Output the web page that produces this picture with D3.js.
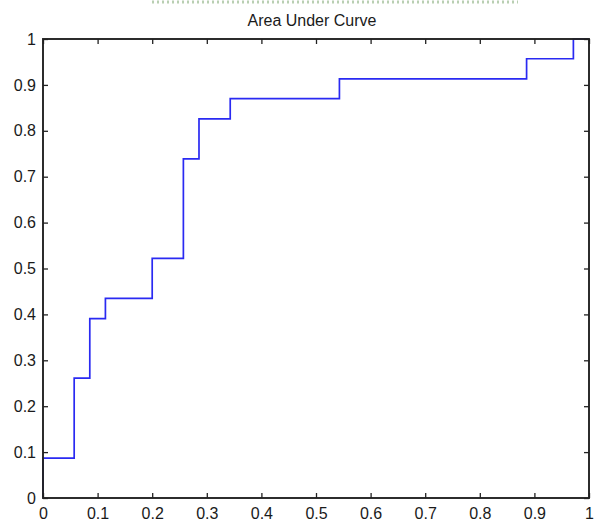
<!DOCTYPE html>
<html>
<head>
<meta charset="utf-8">
<script src="https://cdn.jsdelivr.net/npm/d3@7"></script>
<style>
  html, body { margin: 0; padding: 0; background: #fff; }
  svg { display: block; }
  text { font-family: "Liberation Sans", Arial, sans-serif; fill: #1a1a1a; }
</style>
</head>
<body>
<svg id="chart" width="607" height="524"></svg>
<script>
// Step curve vertices (x = false positive rate, y = true positive rate)
const fprValues = [0, 0, 0.0571, 0.0571, 0.0857, 0.0857, 0.1143, 0.1143, 0.2, 0.2, 0.2571, 0.2571, 0.2857, 0.2857, 0.3429, 0.3429, 0.5429, 0.5429, 0.8857, 0.8857, 0.9714, 0.9714, 1];
const tprValues = [0, 0.087, 0.087, 0.261, 0.261, 0.391, 0.391, 0.435, 0.435, 0.522, 0.522, 0.739, 0.739, 0.826, 0.826, 0.870, 0.870, 0.913, 0.913, 0.957, 0.957, 1, 1];
const xTicks = [0, 0.1, 0.2, 0.3, 0.4, 0.5, 0.6, 0.7, 0.8, 0.9, 1];
const yTicks = [0, 0.1, 0.2, 0.3, 0.4, 0.5, 0.6, 0.7, 0.8, 0.9, 1];
const titleText = "Area Under Curve";

(function () {
const svg = d3.select("#chart");
const mLeft = 43, mRight = 589, mTop = 39, mBottom = 498;

const x = d3.scaleLinear().domain([0, 1]).range([mLeft, mRight]);
const y = d3.scaleLinear().domain([0, 1]).range([mBottom, mTop]);

const fmt = d => d === 0 ? "0" : d === 1 ? "1" : d3.format(".1f")(d);

// cut-off text artefact at the very top
svg.append("line")
  .attr("x1", 152).attr("x2", 518).attr("y1", 2).attr("y2", 2)
  .attr("stroke", "#a8c4a0").attr("stroke-width", 3)
  .attr("stroke-dasharray", "2,3").attr("opacity", 0.8);

// curve
const pts = fprValues.map((v, i) => [v, tprValues[i]]);
svg.append("path")
  .datum(pts)
  .attr("fill", "none")
  .attr("stroke", "#2a2af2")
  .attr("stroke-width", 1.7)
  .attr("d", d3.line().x(d => x(d[0])).y(d => y(d[1])));

// axes with inward ticks
const tickLen = 5;
const axStyle = g => {
  g.select(".domain").remove();
  g.selectAll("line").attr("stroke", "#222").attr("stroke-width", 1.3);
  g.selectAll("text").style("font-size", "16px").attr("fill", "#1a1a1a");
};

svg.append("g").attr("transform", `translate(0,${mBottom})`)
  .call(d3.axisBottom(x).tickValues(xTicks).tickFormat(fmt).tickSizeInner(-tickLen).tickSizeOuter(0).tickPadding(10))
  .call(axStyle);
svg.append("g").attr("transform", `translate(0,${mTop})`)
  .call(d3.axisTop(x).tickValues(xTicks).tickFormat("").tickSizeInner(-tickLen).tickSizeOuter(0))
  .call(axStyle);
svg.append("g").attr("transform", `translate(${mLeft},0)`)
  .call(d3.axisLeft(y).tickValues(yTicks).tickFormat(fmt).tickSizeInner(-tickLen).tickSizeOuter(0).tickPadding(7))
  .call(axStyle);
svg.append("g").attr("transform", `translate(${mRight},0)`)
  .call(d3.axisRight(y).tickValues(yTicks).tickFormat("").tickSizeInner(-tickLen).tickSizeOuter(0))
  .call(axStyle);

// box
svg.append("rect")
  .attr("x", mLeft).attr("y", mTop)
  .attr("width", mRight - mLeft).attr("height", mBottom - mTop)
  .attr("fill", "none").attr("stroke", "#222").attr("stroke-width", 1.9);

// title
svg.append("text")
  .attr("x", 312).attr("y", 26)
  .attr("text-anchor", "middle")
  .style("font-size", "16px")
  .text(titleText);
})();
</script>
</body>
</html>
